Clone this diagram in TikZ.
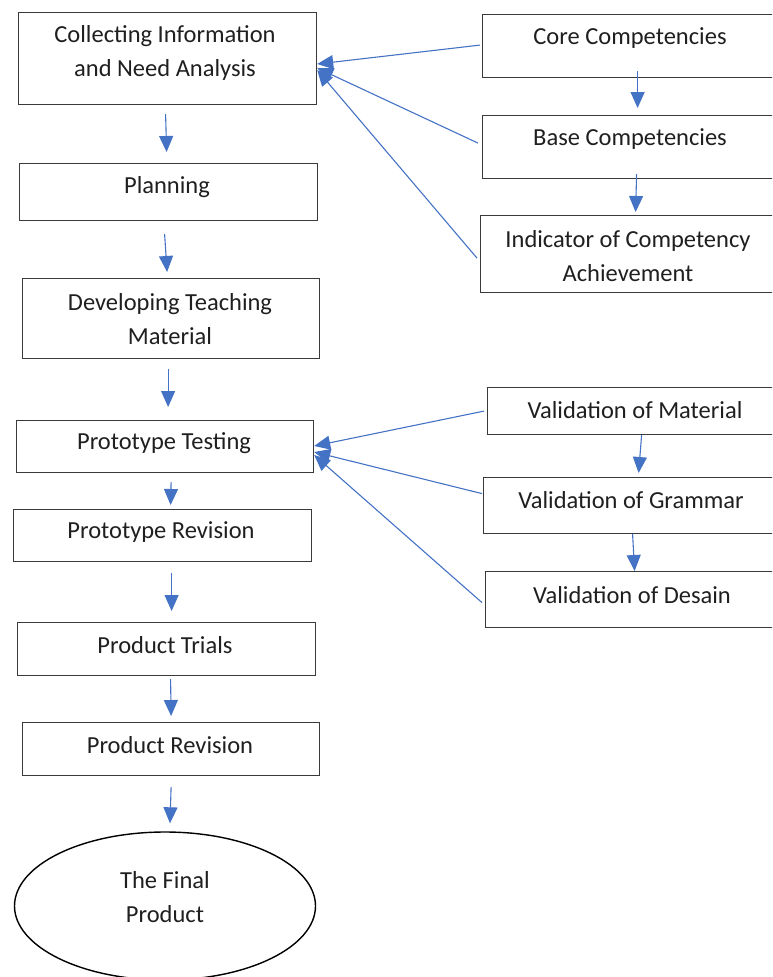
\documentclass[tikz,border=0pt]{standalone}
\usepackage{fontspec}
\setmainfont{Carlito}
\usetikzlibrary{arrows.meta,shapes.geometric}
\definecolor{arrblue}{HTML}{4472C4}
\definecolor{boxline}{HTML}{3A3A3A}
\tikzset{
  box/.style={draw=boxline, line width=1.2pt, inner sep=0pt, anchor=north west},
  lbl/.style={font=\fontsize{24.5}{34}\selectfont, align=center, inner sep=0pt, text=black!88},
  arr/.style={draw=arrblue, line width=1.1pt, -{Triangle[length=16pt,width=14pt]}},
}
\begin{document}
\begin{tikzpicture}[x=1pt,y=-1pt]
\useasboundingbox (0,0) rectangle (772,977);
\clip (0,0) rectangle (772,977);
% left column boxes
\node[box, minimum width=298pt, minimum height=92pt] (collect) at (18,12) {};
\node[box, minimum width=298pt, minimum height=57pt] (plan) at (19,163) {};
\node[box, minimum width=297pt, minimum height=80pt] (dev) at (22,278) {};
\node[box, minimum width=297pt, minimum height=52pt] (proto) at (16,420) {};
\node[box, minimum width=298pt, minimum height=52pt] (prorev) at (13,509) {};
\node[box, minimum width=298pt, minimum height=53pt] (trials) at (17,622) {};
\node[box, minimum width=297pt, minimum height=53pt] (prodrev) at (22,722) {};
\node[draw=black, line width=1.4pt, ellipse, minimum width=301pt, minimum height=148pt, inner sep=0pt] (final) at (165,906) {};
% right column boxes
\node[box, minimum width=298pt, minimum height=63pt] (core) at (482,14) {};
\node[box, minimum width=298pt, minimum height=63pt] (base) at (482,115) {};
\node[box, minimum width=300pt, minimum height=77pt] (ind) at (480,215) {};
\node[box, minimum width=296pt, minimum height=47pt] (vmat) at (487,387) {};
\node[box, minimum width=298pt, minimum height=56pt] (vgram) at (483,477) {};
\node[box, minimum width=298pt, minimum height=56pt] (vdes) at (485,571) {};
% labels
\node[lbl] (tcollect) at (165,53) {Collecting Information\\and Need Analysis};
\node[lbl] (tplan) at (167,187) {Planning};
\node[lbl] (tdev) at (170,319) {Developing Teaching\\Material};
\node[lbl] (tproto) at (164,443) {Prototype Testing};
\node[lbl] (tprorev) at (161,532) {Prototype Revision};
\node[lbl] (ttrials) at (165,645) {Product Trials};
\node[lbl] (tprodrev) at (170,745) {Product Revision};
\node[lbl] (tfinal) at (165,897) {The Final\\Product};
\node[lbl] (tcore) at (630,38) {Core Competencies};
\node[lbl] (tbase) at (630,139) {Base Competencies};
\node[lbl] (tind) at (628,256) {Indicator of Competency\\Achievement};
\node[lbl] (tvmat) at (635,410) {Validation of Material};
\node[lbl] (tvgram) at (631,500) {Validation of Grammar};
\node[lbl] (tvdes) at (632,595) {Validation of Desain};
% coordinates for arrow ends on box edges
\coordinate (c1) at (collect.east |- 0,64);
\coordinate (c2) at (collect.east |- 0,68);
\coordinate (c3) at (collect.east |- 0,70);
\coordinate (p1) at (proto.east |- 0,446);
\coordinate (p2) at (proto.east |- 0,452);
\coordinate (p3) at (proto.east |- 0,455);
% down arrows left column
\draw[arr] ([shift={(-2,9)}]collect.south) -- ([shift={(-2,-11)}]plan.north);
\draw[arr] ([shift={(-4,13)}]plan.south) -- ([shift={(-4,-6)}]dev.north);
\draw[arr] ([shift={(-3,10)}]dev.south) -- ([shift={(3,-13)}]proto.north);
\draw[arr] ([shift={(6,9)}]proto.south) -- ([shift={(8,-4)}]prorev.north);
\draw[arr] ([shift={(9,11)}]prorev.south) -- ([shift={(5,-11)}]trials.north);
\draw[arr] ([shift={(4,3)}]trials.south) -- ([shift={(0,-6)}]prodrev.north);
\draw[arr] ([shift={(0,11)}]prodrev.south) -- ([shift={(5,-8)}]final.north);
% down arrows right column
\draw[arr] ([shift={(6,-7)}]core.south) -- ([shift={(6,-7)}]base.north);
\draw[arr] ([shift={(5,-5)}]base.south) -- ([shift={(5,-3)}]ind.north);
\draw[arr] ([shift={(6,0)}]vmat.south) -- ([shift={(6,-4)}]vgram.north);
\draw[arr] (vgram.south) -- (vdes.north);
% converging arrows
\draw[arr] ([shift={(-2,-1)}]core.west) -- (c1);
\draw[arr] ([shift={(-4,-4)}]base.west) -- (c2);
\draw[arr] ([shift={(-3,4)}]ind.west) -- (c3);
\draw[arr] ([shift={(-3,0)}]vmat.west) -- (p1);
\draw[arr] ([shift={(-1,-12)}]vgram.west) -- (p2);
\draw[arr] ([shift={(-3,3)}]vdes.west) -- (p3);
\end{tikzpicture}
\end{document}
